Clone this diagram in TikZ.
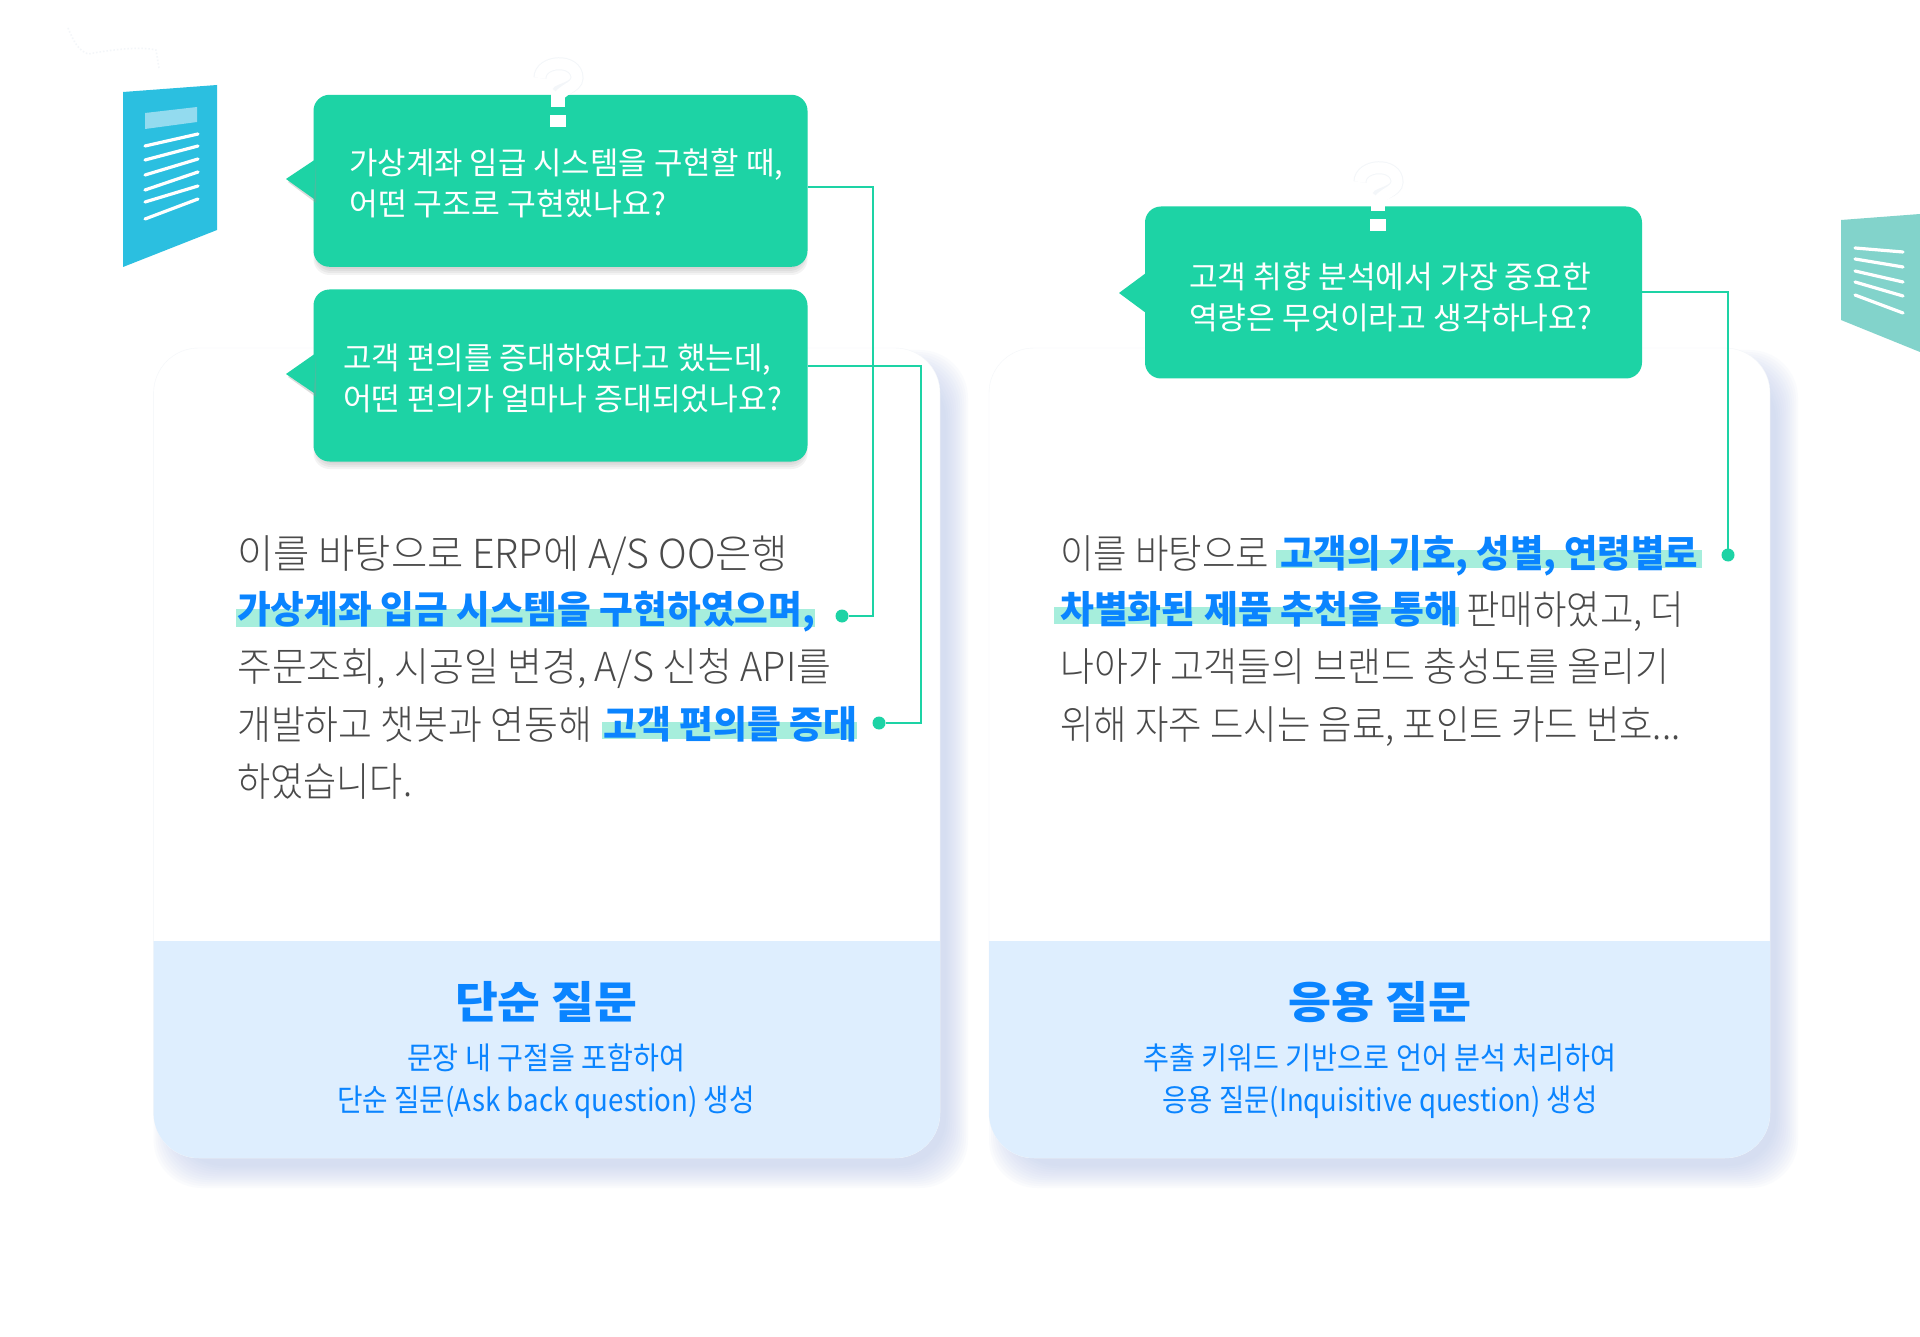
\documentclass[tikz,border=0pt]{standalone}
\usepackage{fontspec}
\usepackage{graphicx}
\newfontfamily\kr{Noto Sans CJK KR}
\newfontfamily\krl{Noto Sans CJK KR Light}
\newfontfamily\krb{Noto Sans CJK KR Black}
\definecolor{mint}{HTML}{1DD3A5}
\definecolor{hl}{HTML}{A6EEDC}
\definecolor{azure}{HTML}{0A84FF}
\definecolor{bandc}{HTML}{DEEEFE}
\definecolor{cardshadow}{HTML}{B4C4EA}
\definecolor{bodyc}{HTML}{4A4A4A}
\definecolor{faint}{HTML}{F3F6F9}
\definecolor{docblue}{HTML}{2BBFE0}
\definecolor{doclight}{HTML}{93DBEF}
\definecolor{docteal}{HTML}{82D3CB}
\newsavebox\fbx
\newcommand\fitw[2]{\sbox\fbx{#2}\pgfmathsetmacro\fr{#1/\wd\fbx}\scalebox{\fr}[1]{\usebox\fbx}}
\tikzset{
  txt/.style={inner sep=0pt,anchor=base west,text depth=0pt},
  ctxt/.style={inner sep=0pt,anchor=base,text depth=0pt},
  bodytxt/.style={txt,text=bodyc,font=\krl\fontsize{40}{40}\selectfont},
  boldtxt/.style={txt,text=azure,font=\krb\fontsize{38}{38}\selectfont},
  bubtxt/.style={txt,text=white,font=\kr\fontsize{31}{31}\selectfont},
  titletxt/.style={ctxt,text=azure,font=\krb\fontsize{44}{44}\selectfont},
  subtxt/.style={ctxt,text=azure,font=\kr\fontsize{31}{31}\selectfont},
  bubble/.style={fill=mint,rounded corners=16,minimum width=494,minimum height=172,inner sep=0pt},
  conn/.style={draw=mint,line width=2},
  dotn/.style={circle,fill=mint,inner sep=0pt,minimum size=13},
  whiteln/.style={draw=white,line width=3.2,line cap=round},
}
\begin{document}
\begin{tikzpicture}[x=1pt,y=-1pt]
\useasboundingbox (0,0) rectangle (1920,1337);
\fill[white] (0,0) rectangle (1920,1337);
% faint scribble
\draw[faint,line width=1.5,dotted] (68,28) .. controls (74,42) and (78,50) .. (88,54) .. controls (110,50) and (140,46) .. (156,50) -- (159,68);
% card shadows and cards
\foreach \s in {14,12,...,-8}{
  \fill[cardshadow,opacity=.055,rounded corners=48] (153.6+14-\s,348+16-\s) rectangle (940+14+\s,1158+16+\s);
  \fill[cardshadow,opacity=.055,rounded corners=48] (989+14-\s,348+16-\s) rectangle (1770+14+\s,1158+16+\s);
}
\fill[white,draw=faint,rounded corners=45] (153.6,348) rectangle (940,1158);
\fill[white,draw=faint,rounded corners=45] (989,348) rectangle (1770,1158);
\fill[bandc] (153.6,941) -- (940,941) {[rounded corners=45] -- (940,1158) -- (153.6,1158)} -- (153.6,941);
\fill[bandc] (989,941) -- (1770,941) {[rounded corners=45] -- (1770,1158) -- (989,1158)} -- (989,941);
% left document icon
\fill[docblue] (123,92) -- (217,85) -- (217,230) -- (123,267) -- cycle;
\fill[doclight] (145,113) -- (197,107) -- (197,122) -- (145,129) -- cycle;
\draw[whiteln] (145,146) -- (198,134);
\draw[whiteln] (145,160) -- (198,146);
\draw[whiteln] (145,175) -- (198,159);
\draw[whiteln] (145,190) -- (198,172);
\draw[whiteln] (145,202) -- (198,186);
\draw[whiteln] (145,219) -- (198,199);
% right document icon
\fill[docteal] (1841,220) -- (1920,214) -- (1920,352) -- (1841,320) -- cycle;
\draw[whiteln] (1855,248) -- (1903,252);
\draw[whiteln] (1855,259) -- (1903,267);
\draw[whiteln] (1855,271) -- (1903,282);
\draw[whiteln] (1855,282) -- (1903,296);
\draw[whiteln] (1855,295) -- (1903,313);
% bubble shadows
\foreach \s in {8,6,4,2}{
  \fill[black!50,opacity=.09,rounded corners=16] (313.5+4-\s/2,94.6+4) rectangle (807.6-4+\s/2,267+\s);
  \fill[black!50,opacity=.09,rounded corners=16] (313.5+4-\s/2,290+4) rectangle (807.6-4+\s/2,461+\s);
}
% bubbles
\node[bubble] (b1) at (560.5,180.8) {};
\node[bubble] (b2) at (560.5,375.5) {};
\node[bubble,minimum width=497] (b3) at (1393.5,292.5) {};
\fill[black!40,opacity=.35] (316,163) -- (288,182) -- (316,203) -- cycle;
\fill[black!40,opacity=.35] (316,357) -- (288,377) -- (316,397) -- cycle;
\fill[mint] (316,159) -- (286,179) -- (314,199) -- cycle;
\fill[mint] (316,353) -- (286,374) -- (314,393) -- cycle;
\fill[mint] (1146,273) -- (1119,293) -- (1146,313) -- cycle;
% question marks
\foreach \dx/\dy in {0/0,820/104}{
  \begin{scope}[shift={(\dx,\dy)}]
    \draw[faint,line width=13] (540,78) .. controls (540,60) and (577,58) .. (577,78) .. controls (577,88) and (558,90) .. (558,93);
    \draw[white,line width=11] (540,78) .. controls (540,60) and (577,58) .. (577,78) .. controls (577,88) and (558,90) .. (558,100);
    \fill[white] (551,94) rectangle (565,107);
    \fill[white] (550,115) rectangle (566,127);
  \end{scope}
}
% highlights
\fill[hl] (236,609) rectangle (815,627);
\fill[hl] (602,722) rectangle (857,739);
\fill[hl] (1276,550) rectangle (1702,568);
\fill[hl] (1054,607) rectangle (1459,624);
% bubble text
\node[bubtxt] (t11) at (349,175) {\fitw{434}{가상계좌 임급 시스템을 구현할 때,}};
\node[bubtxt] (t12) at (349,216) {\fitw{317}{어떤 구조로 구현했나요?}};
\node[bubtxt] (t21) at (343,370) {\fitw{428}{고객 편의를 증대하였다고 했는데,}};
\node[bubtxt] (t22) at (343,411) {\fitw{439}{어떤 편의가 얼마나 증대되었나요?}};
\node[bubtxt] (t31) at (1189,288.5) {\fitw{402}{고객 취향 분석에서 가장 중요한}};
\node[bubtxt] (t32) at (1189,329.5) {\fitw{403}{역량은 무엇이라고 생각하나요?}};
% left body
\node[bodytxt] (l1) at (237,568.5) {\fitw{551}{이를 바탕으로 ERP에 A/S OO은행}};
\node[boldtxt] (l2) at (237,623.5) {\fitw{578}{가상계좌 입금 시스템을 구현하였으며,}};
\node[bodytxt] (l3) at (237,681) {\fitw{594}{주문조회, 시공일 변경, A/S 신청 API를}};
\node[bodytxt] (l4) at (237,739) {\fitw{355}{개발하고 챗봇과 연동해}};
\node[boldtxt] (l4b) at (603,738.5) {\fitw{254}{고객 편의를 증대}};
\node[bodytxt] (l5) at (237,796) {\fitw{175}{하였습니다.}};
% right body
\node[bodytxt] (r1) at (1060,568.5) {\fitw{209}{이를 바탕으로}};
\node[boldtxt] (r1b) at (1280,567.5) {\fitw{418}{고객의 기호, 성별, 연령별로}};
\node[boldtxt] (r2b) at (1060,623.5) {\fitw{398}{차별화된 제품 추천을 통해}};
\node[bodytxt] (r2) at (1466,624.5) {\fitw{218}{판매하였고, 더}};
\node[bodytxt] (r3) at (1060,681) {\fitw{609}{나아가 고객들의 브랜드 충성도를 올리기}};
\node[bodytxt] (r4) at (1060,739) {\fitw{620}{위해 자주 드시는 음료, 포인트 카드 번호...}};
% band text
\node[titletxt] (h1) at (546,1018) {\fitw{182}{단순 질문}};
\node[subtxt] (s11) at (546,1069.5) {\fitw{278}{문장 내 구절을 포함하여}};
\node[subtxt] (s12) at (546,1111) {\fitw{418}{단순 질문(Ask back question) 생성}};
\node[titletxt] (h2) at (1380,1018) {\fitw{183}{응용 질문}};
\node[subtxt] (s21) at (1380,1069.5) {\fitw{473}{추출 키워드 기반으로 언어 분석 처리하여}};
\node[subtxt] (s22) at (1380,1111) {\fitw{435}{응용 질문(Inquisitive question) 생성}};
% connectors
\node[dotn] (d1) at (842,616) {};
\node[dotn] (d2) at (879,723) {};
\node[dotn] (d3) at (1728,555) {};
\coordinate (o1) at (b1.east |- 0,187);
\coordinate (o2) at (b2.east |- 0,366);
\coordinate (o3) at (b3.east |- 0,292);
\coordinate (v1) at (873,616);
\coordinate (v2) at (921,723);
\coordinate (v3) at (1728,555);
\draw[conn] (o1) -| (v1) -- (d1);
\draw[conn] (o2) -| (v2) -- (d2);
\draw[conn] (o3) -| (v3) -- (d3);
\end{tikzpicture}
\end{document}
